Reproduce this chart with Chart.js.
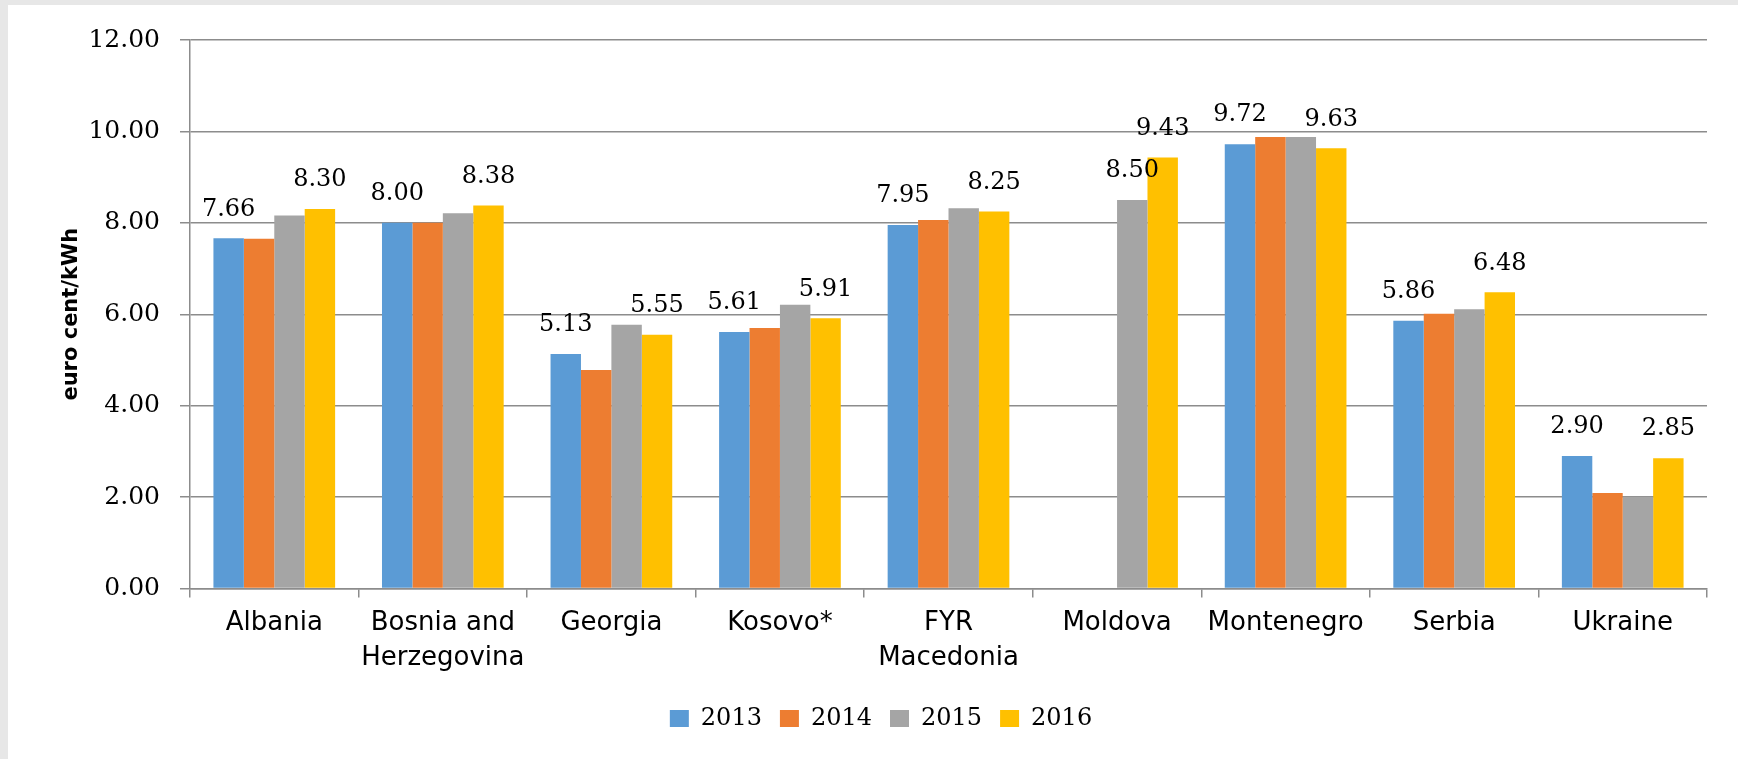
<!DOCTYPE html>
<html>
<head>
<meta charset="utf-8">
<script src="https://cdn.jsdelivr.net/npm/chart.js@4.4.0/dist/chart.umd.min.js"></script>
<style>
  html, body { margin: 0; padding: 0; background: #e7e7e7; }
  #marco { position: absolute; left: 8px; top: 5px; width: 1730px; height: 754px; background: #fff; }
</style>
</head>
<body>
<div id="marco"><canvas id="chartTarifas"></canvas></div>
<script>
// Valores (euro cent/kWh)
const paises = ["Albania", ["Bosnia and", "Herzegovina"], "Georgia", "Kosovo*", ["FYR", "Macedonia"], "Moldova", "Montenegro", "Serbia", "Ukraine"];
const anios = ["2013", "2014", "2015", "2016"];
const valores2013 = [7.66, 8.00, 5.13, 5.61, 7.95, null, 9.72, 5.86, 2.90];
const valores2014 = [7.65, 8.00, 4.78, 5.70, 8.06, null, 9.88, 6.01, 2.09];
const valores2015 = [8.16, 8.21, 5.77, 6.21, 8.32, 8.50, 9.88, 6.11, 2.01];
const valores2016 = [8.30, 8.38, 5.55, 5.91, 8.25, 9.43, 9.63, 6.48, 2.85];
const colores = ["#5B9BD5", "#ED7D31", "#A5A5A5", "#FFC000"];
const ticksY = [0, 2, 4, 6, 8, 10, 12];
// series (por índice) que llevan etiqueta en cada país
const seriesEtiquetadas = [[0, 3], [0, 3], [0, 3], [0, 3], [0, 3], [2, 3], [0, 3], [0, 3], [0, 3]];

const todasLasSeries = [valores2013, valores2014, valores2015, valores2016];
const gris = "#8c8c8c";
const texto = "#000";

// Etiquetas de valor encima de algunas barras
const etiquetasBarras = {
    id: "etiquetasBarras",
    afterDatasetsDraw(chart) {
        const ctx = chart.ctx;
        ctx.save();
        ctx.font = "24px 'DejaVu Serif'";
        ctx.fillStyle = texto;
        ctx.textAlign = "center";
        ctx.textBaseline = "middle";
        seriesEtiquetadas.forEach((series, i) => {
            series.forEach(d => {
                const barra = chart.getDatasetMeta(d).data[i];
                const valor = chart.data.datasets[d].data[i];
                if (valor == null) return;
                ctx.fillText(valor.toFixed(2), barra.x, barra.y - 29);
            });
        });
        ctx.restore();
    }
};

var ctxTarifas = document.getElementById("chartTarifas").getContext("2d");
var chartTarifas = new Chart(ctxTarifas, {
    type: "bar",
    data: {
        labels: paises,
        datasets: anios.map((anio, k) => ({
            label: anio,
            data: todasLasSeries[k],
            backgroundColor: colores[k],
            borderWidth: 0,
            categoryPercentage: 0.722,
            barPercentage: 1.0
        }))
    },
    options: {
        responsive: true,
        maintainAspectRatio: false,
        animation: false,
        events: [],
        layout: { padding: { top: 33, right: 31, bottom: 18.5, left: 47 } },
        plugins: {
            tooltip: { enabled: false },
            legend: {
                position: "bottom",
                labels: {
                    font: { family: "'DejaVu Serif'", size: 24 },
                    color: texto,
                    boxWidth: 19,
                    boxHeight: 17,
                    padding: 18
                }
            }
        },
        scales: {
            x: {
                grid: { drawOnChartArea: false, color: gris, lineWidth: 1.5, tickLength: 9, offset: true },
                border: { color: gris, width: 1.5 },
                ticks: {
                    font: { family: "'DejaVu Sans'", size: 26, lineHeight: 1.35 },
                    color: texto,
                    padding: 8,
                    maxRotation: 0,
                    autoSkip: false
                },
                afterFit(scale) { scale.height = 100; }
            },
            y: {
                min: 0,
                max: 12,
                afterBuildTicks(scale) { scale.ticks = ticksY.map(v => ({ value: v })); },
                grid: { color: gris, lineWidth: 1.5, tickLength: 10 },
                border: { color: gris, width: 1.5 },
                ticks: {
                    font: { family: "'DejaVu Serif'", size: 25 },
                    color: texto,
                    padding: 20,
                    callback: v => Number(v).toFixed(2)
                },
                title: {
                    display: true,
                    text: "euro cent/kWh",
                    font: { family: "'DejaVu Sans'", size: 21, weight: "bold" },
                    color: texto,
                    padding: { top: 4, bottom: 0 }
                },
                afterFit(scale) { scale.width = 135; }
            }
        }
    },
    plugins: [etiquetasBarras]
});
</script>
</body>
</html>
